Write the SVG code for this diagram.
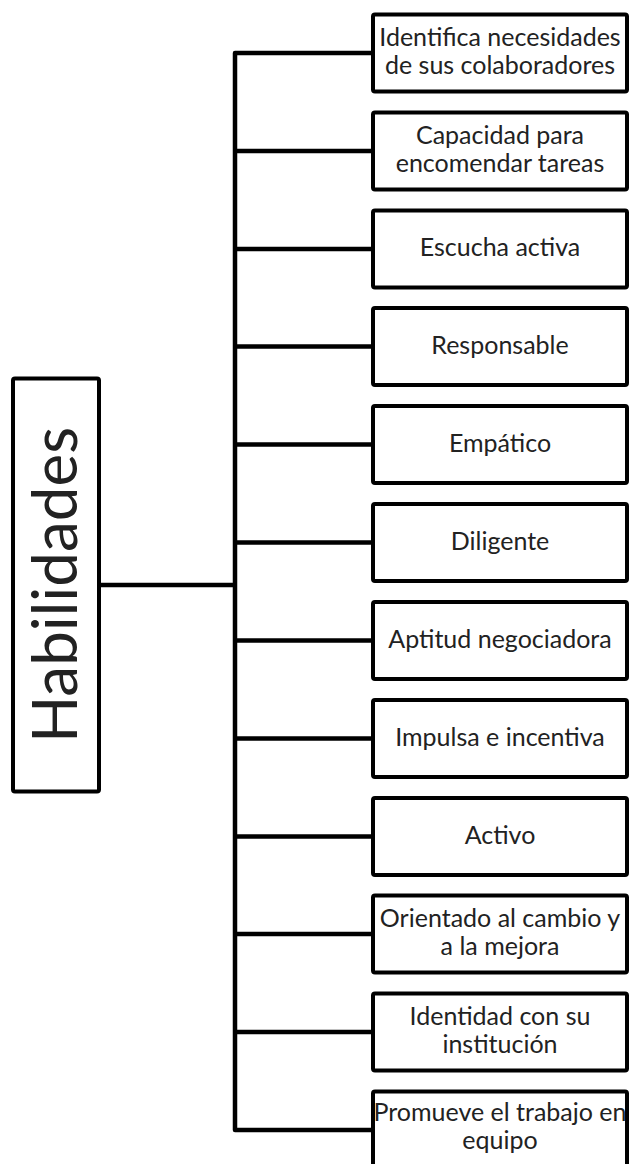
<svg xmlns="http://www.w3.org/2000/svg" width="629" height="1164" viewBox="0 0 629 1164">
<style>
  .box { fill: #ffffff; stroke: #000000; stroke-width: 4; }
  .lbl { font-family: Lato, "Open Sans", "Liberation Sans", sans-serif; font-size: 25px; fill: #222222; text-anchor: middle; }
  .main { font-family: Lato, "Open Sans", "Liberation Sans", sans-serif; font-size: 62px; fill: #222222; text-anchor: middle; }
  .conn { fill: none; stroke: #000000; stroke-width: 4.5; stroke-linejoin: round; stroke-linecap: butt; }
</style>
<rect x="0" y="0" width="629" height="1164" fill="#ffffff"/>
<g id="connectors">
  <path class="conn" d="M373,53 H235 V1130 H373"/>
  <line class="conn" x1="99" y1="585" x2="235" y2="585"/>
  <line class="conn" x1="235" y1="151" x2="373" y2="151"/>
  <line class="conn" x1="235" y1="249" x2="373" y2="249"/>
  <line class="conn" x1="235" y1="346.5" x2="373" y2="346.5"/>
  <line class="conn" x1="235" y1="444.5" x2="373" y2="444.5"/>
  <line class="conn" x1="235" y1="542.5" x2="373" y2="542.5"/>
  <line class="conn" x1="235" y1="640.5" x2="373" y2="640.5"/>
  <line class="conn" x1="235" y1="738.5" x2="373" y2="738.5"/>
  <line class="conn" x1="235" y1="836.5" x2="373" y2="836.5"/>
  <line class="conn" x1="235" y1="934" x2="373" y2="934"/>
  <line class="conn" x1="235" y1="1032" x2="373" y2="1032"/>
</g>
<g id="habilidades">
  <rect class="box" x="13" y="378.5" width="86" height="413" rx="2"/>
  <text class="main" transform="translate(77,585) rotate(-90)" x="0" y="0">Habilidades</text>
</g>
<g id="n1">
  <rect class="box" x="373" y="14.5" width="254" height="77" rx="2"/>
  <text class="lbl" x="500" y="46">Identifica necesidades</text>
  <text class="lbl" x="500" y="74">de sus colaboradores</text>
</g>
<g id="n2">
  <rect class="box" x="373" y="112.5" width="254" height="77" rx="2"/>
  <text class="lbl" x="500" y="144">Capacidad para</text>
  <text class="lbl" x="500" y="172">encomendar tareas</text>
</g>
<g id="n3">
  <rect class="box" x="373" y="210.5" width="254" height="77" rx="2"/>
  <text class="lbl" x="500" y="256">Escucha activa</text>
</g>
<g id="n4">
  <rect class="box" x="373" y="308" width="254" height="77" rx="2"/>
  <text class="lbl" x="500" y="353.5">Responsable</text>
</g>
<g id="n5">
  <rect class="box" x="373" y="406" width="254" height="77" rx="2"/>
  <text class="lbl" x="500" y="451.5">Empático</text>
</g>
<g id="n6">
  <rect class="box" x="373" y="504" width="254" height="77" rx="2"/>
  <text class="lbl" x="500" y="549.5">Diligente</text>
</g>
<g id="n7">
  <rect class="box" x="373" y="602" width="254" height="77" rx="2"/>
  <text class="lbl" x="500" y="647.5">Aptitud negociadora</text>
</g>
<g id="n8">
  <rect class="box" x="373" y="700" width="254" height="77" rx="2"/>
  <text class="lbl" x="500" y="745.5">Impulsa e incentiva</text>
</g>
<g id="n9">
  <rect class="box" x="373" y="798" width="254" height="77" rx="2"/>
  <text class="lbl" x="500" y="843.5">Activo</text>
</g>
<g id="n10">
  <rect class="box" x="373" y="895.5" width="254" height="77" rx="2"/>
  <text class="lbl" x="500" y="927">Orientado al cambio y</text>
  <text class="lbl" x="500" y="955">a la mejora</text>
</g>
<g id="n11">
  <rect class="box" x="373" y="993.5" width="254" height="77" rx="2"/>
  <text class="lbl" x="500" y="1025">Identidad con su</text>
  <text class="lbl" x="500" y="1053">institución</text>
</g>
<g id="n12">
  <rect class="box" x="373" y="1091.5" width="254" height="77" rx="2"/>
  <text class="lbl" x="500" y="1121">Promueve el trabajo en</text>
  <text class="lbl" x="500" y="1149">equipo</text>
</g>
</svg>
